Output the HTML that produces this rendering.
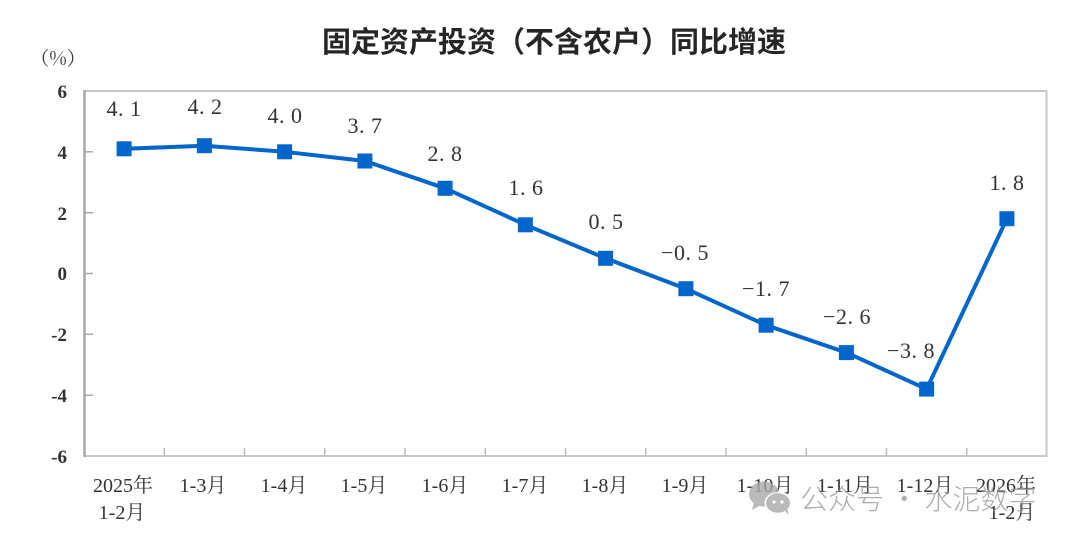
<!DOCTYPE html>
<html>
<head>
<meta charset="utf-8">
<style>
html,body{margin:0;padding:0;background:#fff;}
svg{display:block;}
.t{font-family:"Liberation Sans","Noto Sans CJK SC",sans-serif;}
.s{font-family:"Liberation Serif","Noto Serif CJK SC",serif;}
</style>
</head>
<body>
<svg width="1080" height="542" viewBox="0 0 1080 542" xmlns="http://www.w3.org/2000/svg">
<rect width="1080" height="542" fill="#fff"/>
<!-- title -->
<text x="554" y="52" text-anchor="middle" class="t" font-size="29" font-weight="bold" fill="#262626" font-family="'Noto Sans CJK SC',sans-serif">固定资产投资（不含农户）同比增速</text>
<text x="58" y="65" text-anchor="middle" font-size="19" fill="#333" font-family="'Noto Serif CJK SC',serif">（%）</text>

<!-- plot box -->
<rect x="84.5" y="91" width="962" height="365" fill="none" stroke="#c8c8c8" stroke-width="2"/>
<line x1="84.5" y1="90" x2="84.5" y2="457" stroke="#a8a8a8" stroke-width="2.5"/>

<!-- y ticks -->
<g stroke="#a8a8a8" stroke-width="1.5">
<line x1="85" y1="151.8" x2="93" y2="151.8"/>
<line x1="85" y1="212.7" x2="93" y2="212.7"/>
<line x1="85" y1="273.5" x2="93" y2="273.5"/>
<line x1="85" y1="334.3" x2="93" y2="334.3"/>
<line x1="85" y1="395.2" x2="93" y2="395.2"/>
</g>
<!-- x ticks -->
<g stroke="#bdbdbd" stroke-width="1.5">
<line x1="164.3" y1="456" x2="164.3" y2="448"/>
<line x1="244.5" y1="456" x2="244.5" y2="448"/>
<line x1="324.8" y1="456" x2="324.8" y2="448"/>
<line x1="405" y1="456" x2="405" y2="448"/>
<line x1="485.3" y1="456" x2="485.3" y2="448"/>
<line x1="565.5" y1="456" x2="565.5" y2="448"/>
<line x1="645.8" y1="456" x2="645.8" y2="448"/>
<line x1="726" y1="456" x2="726" y2="448"/>
<line x1="806.3" y1="456" x2="806.3" y2="448"/>
<line x1="886.5" y1="456" x2="886.5" y2="448"/>
<line x1="966.8" y1="456" x2="966.8" y2="448"/>
</g>

<!-- y labels -->
<g class="s" font-size="19" font-weight="bold" fill="#333" text-anchor="end">
<text x="67" y="98">6</text>
<text x="67" y="159">4</text>
<text x="67" y="220">2</text>
<text x="67" y="280">0</text>
<text x="67" y="341">-2</text>
<text x="67" y="402">-4</text>
<text x="67" y="463">-6</text>
</g>

<!-- x labels -->
<g class="s" font-size="20" fill="#333" text-anchor="middle">
<text x="123" y="492">2025年</text>
<text x="122" y="519">1-2月</text>
<text x="203" y="492">1-3月</text>
<text x="284" y="492">1-4月</text>
<text x="364" y="492">1-5月</text>
<text x="445" y="492">1-6月</text>
<text x="525" y="492">1-7月</text>
<text x="605" y="492">1-8月</text>
<text x="685" y="492">1-9月</text>
<text x="765" y="492">1-10月</text>
<text x="845" y="492">1-11月</text>
<text x="925" y="492">1-12月</text>
<text x="1006" y="492">2026年</text>
<text x="1012" y="519">1-2月</text>
</g>

<!-- series -->
<polyline fill="none" stroke="#0066cc" stroke-width="4" stroke-linejoin="round"
points="124.1,148.8 204.4,145.7 284.6,151.8 364.9,161.0 445.1,188.3 525.4,224.8 605.6,258.3 685.9,288.7 766.1,325.2 846.4,352.6 926.6,389.1 1006.9,218.7"/>
<g fill="#0066cc">
<rect x="116.6" y="141.3" width="15" height="15"/>
<rect x="196.9" y="138.2" width="15" height="15"/>
<rect x="277.1" y="144.3" width="15" height="15"/>
<rect x="357.4" y="153.5" width="15" height="15"/>
<rect x="437.6" y="180.8" width="15" height="15"/>
<rect x="517.9" y="217.3" width="15" height="15"/>
<rect x="598.1" y="250.8" width="15" height="15"/>
<rect x="678.4" y="281.2" width="15" height="15"/>
<rect x="758.6" y="317.7" width="15" height="15"/>
<rect x="838.9" y="345.1" width="15" height="15"/>
<rect x="919.1" y="381.6" width="15" height="15"/>
<rect x="999.4" y="211.2" width="15" height="15"/>
</g>

<!-- data labels -->
<g class="s" font-size="22" fill="#333" text-anchor="middle" letter-spacing="0.5">
<text x="124" y="116">4. 1</text>
<text x="205" y="114">4. 2</text>
<text x="285" y="123">4. 0</text>
<text x="365" y="133">3. 7</text>
<text x="445" y="161">2. 8</text>
<text x="526" y="195">1. 6</text>
<text x="606" y="229">0. 5</text>
<text x="685" y="260">−0. 5</text>
<text x="766" y="296">−1. 7</text>
<text x="847" y="324">−2. 6</text>
<text x="911" y="358">−3. 8</text>
<text x="1007" y="190">1. 8</text>
</g>

<!-- watermark -->
<g opacity="0.8">
<ellipse cx="764" cy="494" rx="15" ry="12.5" fill="#a9a9a9"/>
<polygon points="754,502 752,510 761,505" fill="#a9a9a9"/>
<ellipse cx="778" cy="503" rx="13.5" ry="11" fill="#fff"/>
<ellipse cx="778" cy="503" rx="12" ry="9.8" fill="#a9a9a9"/>
<polygon points="784,510 789,515 787,508" fill="#a9a9a9"/>
<circle cx="774" cy="502" r="1.6" fill="#fff"/>
<circle cx="782" cy="502" r="1.6" fill="#fff"/>
<text x="800" y="509" font-size="28" fill="#999" font-weight="300" font-family="'Noto Sans CJK SC',sans-serif">公众号 · 水泥数字</text>
</g>
</svg>
</body>
</html>
